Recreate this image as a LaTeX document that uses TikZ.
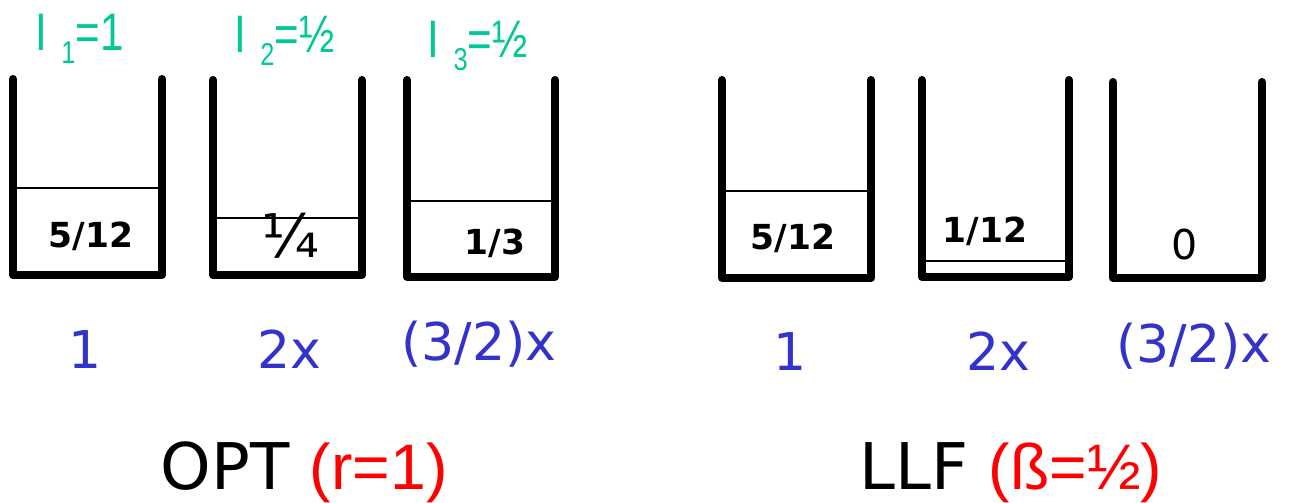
\documentclass[tikz,border=0pt]{standalone}
\usepackage{fontspec}
\setmainfont{DejaVu Sans}
\newfontfamily\narrowsans{Liberation Sans}
\newfontfamily\weightsans[FakeStretch=0.8]{Liberation Sans}
\definecolor{weightgreen}{RGB}{0,200,150}
\definecolor{rateblue}{RGB}{51,51,204}
\newcommand{\wsub}[1]{\hspace{4pt}\raisebox{-3.7pt}{\fontsize{9}{9}\selectfont #1}}
\tikzset{
  bucket/.style={
    black,
    line width=2.3pt,
    line cap=round,
    line join=round
  },
  level/.style={
    black,
    line width=0.5pt
  },
  amount/.style={
    anchor=base,
    inner sep=0pt,
    font=\bfseries\fontsize{9.8}{10}\selectfont
  },
  rate/.style={
    anchor=base,
    inner sep=0pt,
    rateblue,
    font=\fontsize{14.8}{15}\selectfont
  },
  weight/.style={
    anchor=base west,
    inner sep=0pt,
    weightgreen,
    font=\weightsans\fontsize{15}{15}\selectfont
  },
  title/.style={
    anchor=base west,
    inner sep=0pt,
    font=\fontsize{18.3}{19}\selectfont
  }
}

\begin{document}
\begin{tikzpicture}[x=0.01cm, y=-0.01cm]
\useasboundingbox (0,0) rectangle (1289,502);
\foreach \b/\xl/\xr/\yt/\yb/\lv in {o1/13/162/79/275/188, o2/213/362/80/275/218,
    o3/407/555/80/277/201, l1/722/871/80/278/191, l2/922/1069/80/277/261,
    l3/1113/1262/82/278/278} {
  \draw[level] (\xl,\lv) -- (\xr,\lv);
  \draw[bucket] (\xl,\yt) -- (\xl,\yb) -- (\xr,\yb) -- (\xr,\yt);
  \coordinate (\b) at ({(\xl+\xr)/2},\yb);
}
\node[amount] (o1-amt) at (91,247) {5/12};
\node[amount, font=\fontsize{17}{17}\selectfont] (o2-amt) at (290,257) {¼};
\node[amount] (o3-amt) at (495,254) {1/3};
\node[amount] (l1-amt) at (793,249) {5/12};
\node[amount] (l2-amt) at (985,242) {1/12};
\node[amount, font=\fontsize{11.7}{12}\selectfont] (l3-amt) at (1185,259) {0};

\node[weight] (w1) at (35,50) {I\wsub{1}=1};
\node[weight] (w2) at (234,52) {I\wsub{2}=½};
\node[weight] (w3) at (427,57) {I\wsub{3}=½};

\node[rate] (o1-rate) at (85,368) {1};
\node[rate] (o2-rate) at (289,368) {2x};
\node[rate] (o3-rate) at (479,360) {(3/2)x};
\node[rate] (l1-rate) at (790,370) {1};
\node[rate] (l2-rate) at (998,370) {2x};
\node[rate] (l3-rate) at (1194,362) {(3/2)x};

\node[title] (opt) at (160,489) {OPT {\narrowsans\color{red}(r=1)}};
\node[title] (llf) at (859,489) {LLF {\narrowsans\color{red}(ß=½)}};
\end{tikzpicture}
\end{document}
